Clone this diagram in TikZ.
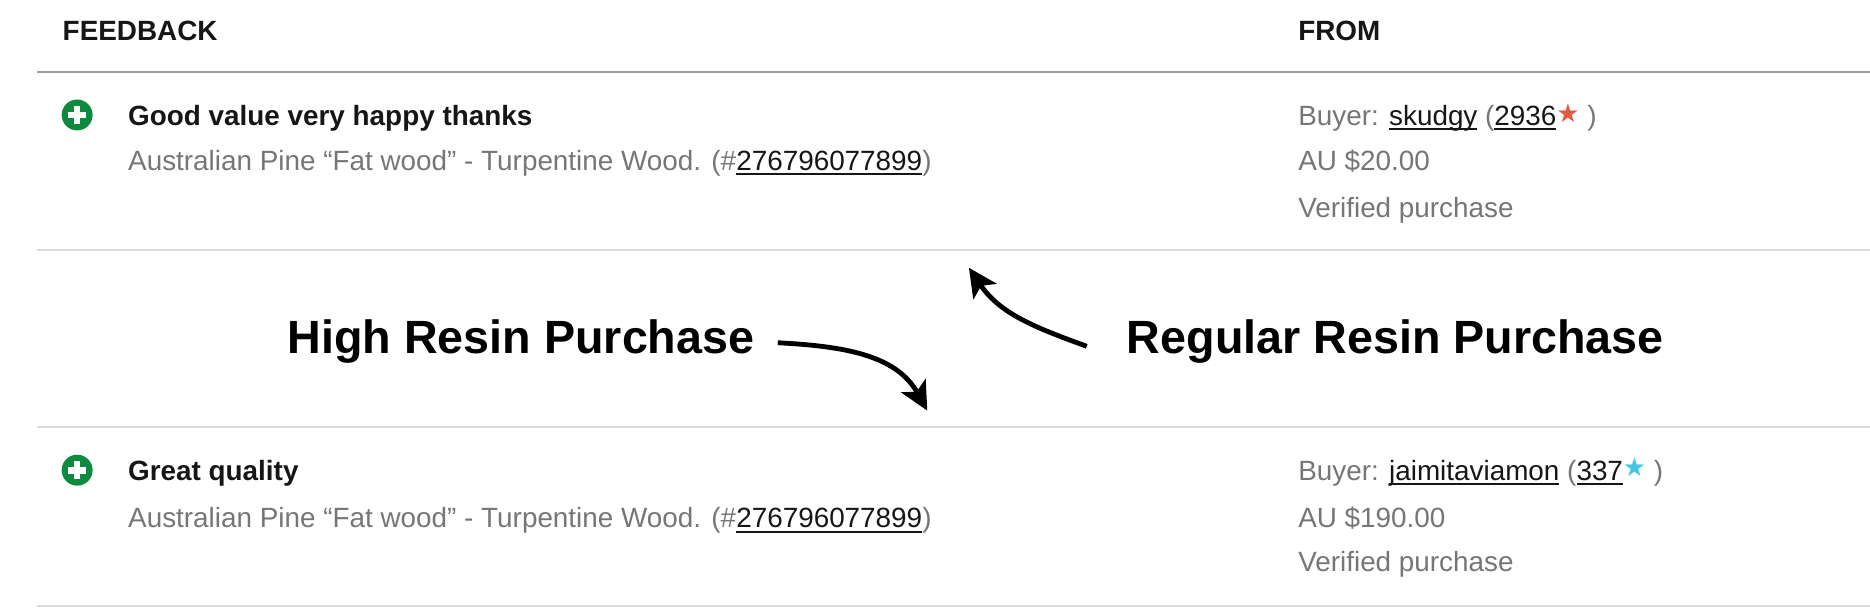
\documentclass[tikz,border=0pt]{standalone}
\usepackage{fontspec}
\setmainfont{Liberation Sans}
\newfontfamily\symfont{DejaVu Sans}
\usetikzlibrary{arrows.meta}

\definecolor{txtgray}{HTML}{767676}
\definecolor{inkblack}{HTML}{161616}
\definecolor{plusgreen}{HTML}{0E8A3E}
\definecolor{starred}{HTML}{E35A3F}
\definecolor{starcyan}{HTML}{42C7E3}
\definecolor{headrule}{HTML}{9C9C9C}
\definecolor{rowrule}{HTML}{DDDDDD}

% underlined link text
\newcommand{\lnk}[1]{\setbox0\hbox{#1}\rlap{\color{inkblack}\rule[-0.17em]{\wd0}{0.07em}}{\color{inkblack}\box0}}
\newcommand{\rstar}[1]{\raisebox{0.12em}{\symfont\fontsize{6.2}{7}\selectfont\color{#1}★}}

\tikzset{
	hdr/.style={anchor=base west, text=inkblack, font=\bfseries\fontsize{6.66}{8}\selectfont},
	ttl/.style={anchor=base west, text=inkblack, font=\bfseries\fontsize{6.66}{8}\selectfont},
	sub/.style={anchor=base west, text=txtgray, font=\fontsize{6.66}{8}\selectfont},
	big/.style={anchor=base west, text=black, font=\bfseries\fontsize{11.15}{13}\selectfont},
	plusicon/.style={circle, fill=plusgreen, minimum size=0.26cm},
	plusbar/.style={white, line width=1.6pt},
	arr/.style={line width=1.15pt, -{Stealth[length=6.8pt,width=6.6pt,inset=1.6pt]}}
}

\begin{document}
\begin{tikzpicture}[inner sep=0pt]
	\useasboundingbox (0,0) rectangle (15.71,-5.108);
	% rules
	\draw[headrule, line width=0.48pt] (0.31,-0.605) -- (15.71,-0.605);
	\draw[rowrule, line width=0.48pt] (0.31,-2.10) -- (15.71,-2.10);
	\draw[rowrule, line width=0.48pt] (0.31,-3.587) -- (15.71,-3.587);
	\draw[rowrule, line width=0.48pt] (0.31,-5.091) -- (15.71,-5.091);
	% header
	\node[hdr] (feedback) at (0.52,-0.344) {FEEDBACK};
	\node[hdr] (from) at (10.90,-0.344) {FROM};
	% first row
	\node[plusicon] (plusa) at (0.648,-0.966) {};
	\draw[plusbar] (plusa.center) +(-0.075,0) -- +(0.075,0);
	\draw[plusbar] (plusa.center) +(0,-0.075) -- +(0,0.075);
	\node[ttl] (titlea) at (1.07,-1.054) {Good value very happy thanks};
	\node[sub] (itema) at (1.07,-1.434) {Australian Pine “Fat wood” - Turpentine Wood. (\#\lnk{276796077899})};
	\node[sub] (buyera) at (10.90,-1.054) {Buyer: \lnk{skudgy} (\lnk{2936}\rstar{starred} )};
	\node[sub] (pricea) at (10.90,-1.434) {AU \$20.00};
	\node[sub] (verifa) at (10.90,-1.824) {Verified purchase};
	% labels and arrows
	\node[big] (high) at (2.41,-2.97) {High Resin Purchase};
	\node[big] (regular) at (9.46,-2.97) {Regular Resin Purchase};
	\coordinate (hightip) at (7.79,-3.45);
	\coordinate (regtip) at (8.14,-2.25);
	\draw[arr] ([xshift=0.19cm,yshift=-0.01cm]high.east) to[out=-3,in=119] (hightip);
	\draw[arr] ([xshift=-0.33cm,yshift=-0.04cm]regular.west) to[out=160,in=-56] (regtip);
	% second row
	\node[plusicon] (plusb) at (0.648,-3.95) {};
	\draw[plusbar] (plusb.center) +(-0.075,0) -- +(0.075,0);
	\draw[plusbar] (plusb.center) +(0,-0.075) -- +(0,0.075);
	\node[ttl] (titleb) at (1.07,-4.034) {Great quality};
	\node[sub] (itemb) at (1.07,-4.434) {Australian Pine “Fat wood” - Turpentine Wood. (\#\lnk{276796077899})};
	\node[sub] (buyerb) at (10.90,-4.034) {Buyer: \lnk{jaimitaviamon} (\lnk{337}\rstar{starcyan} )};
	\node[sub] (priceb) at (10.90,-4.434) {AU \$190.00};
	\node[sub] (verifb) at (10.90,-4.804) {Verified purchase};
\end{tikzpicture}
\end{document}
